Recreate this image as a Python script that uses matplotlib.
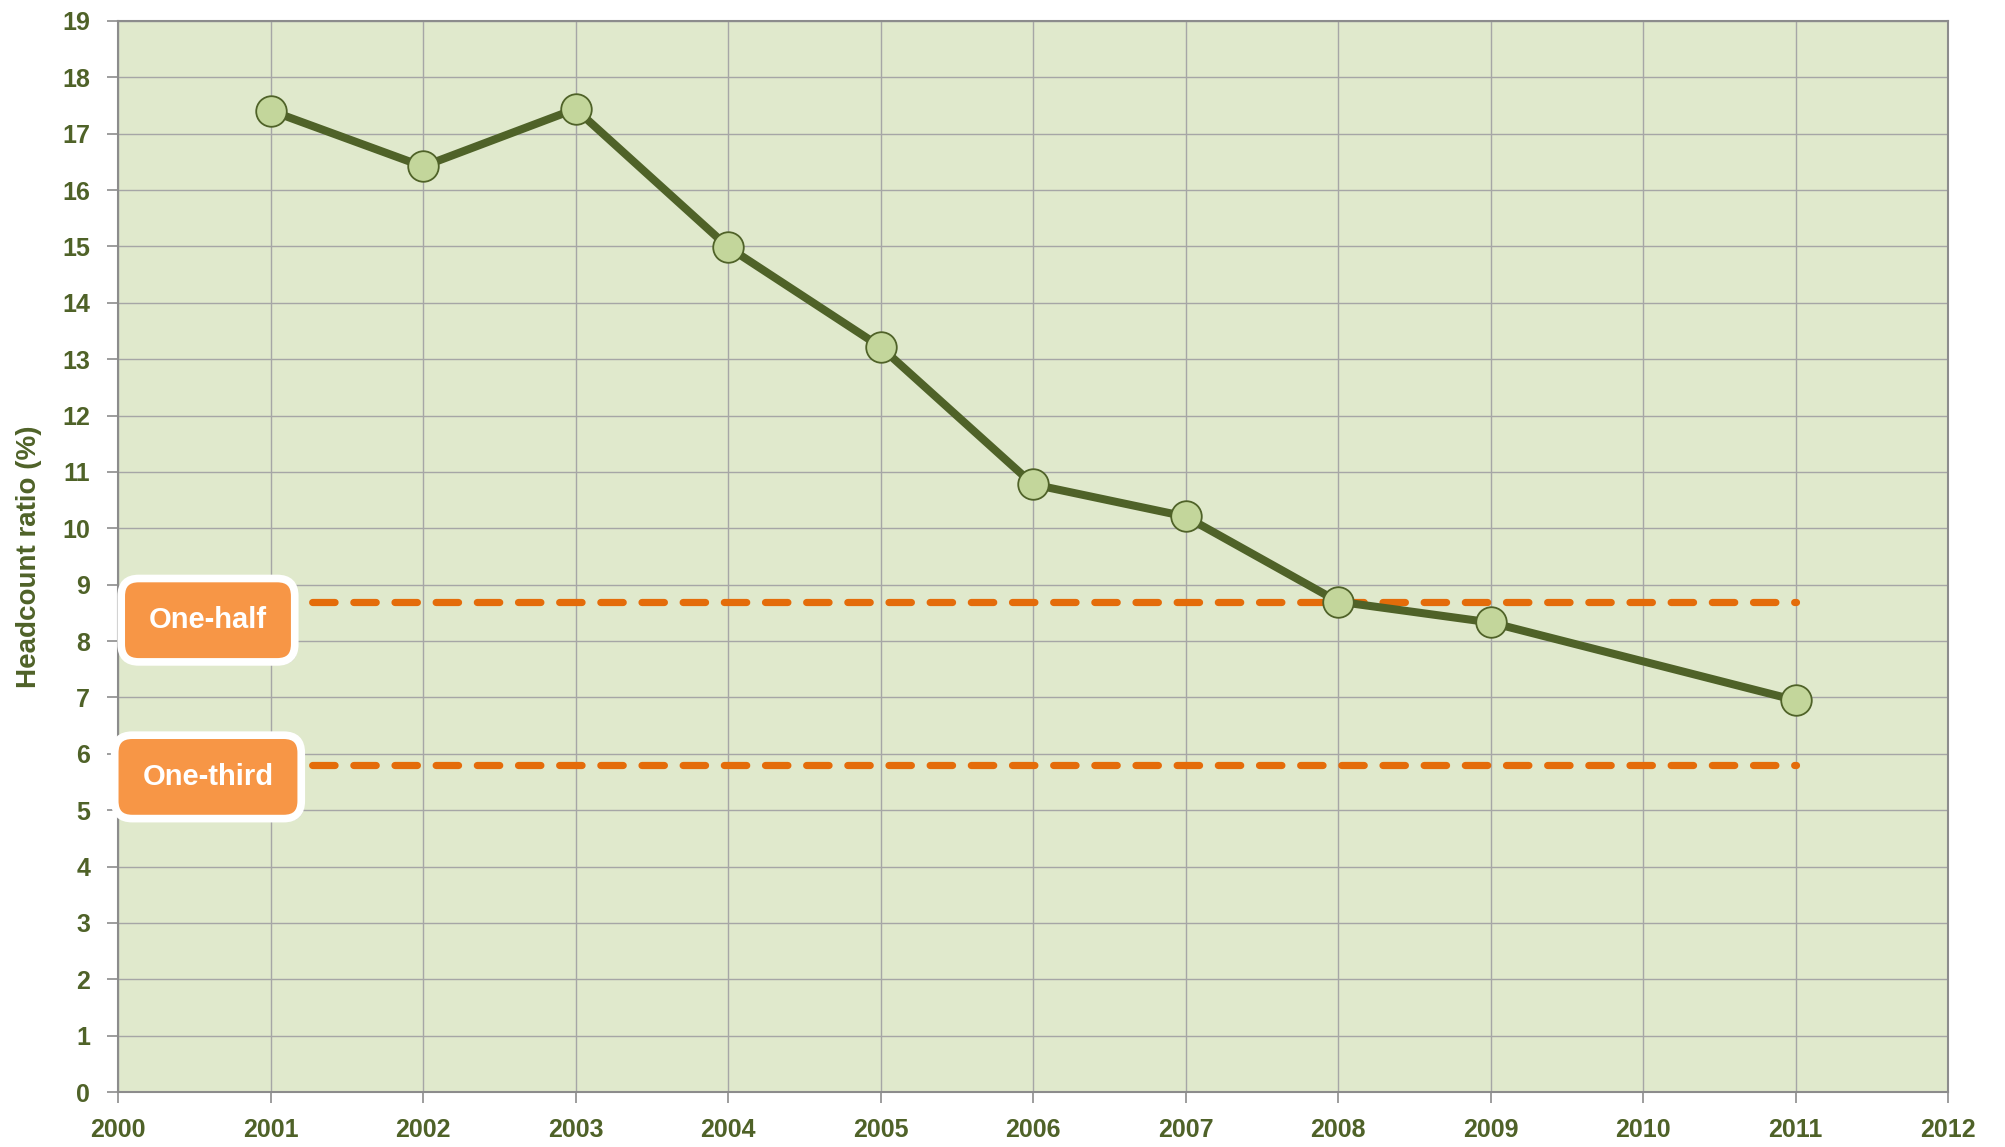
import matplotlib.pyplot as plt
import matplotlib.patheffects as pe

# headcount ratio by year
years = [2001, 2002, 2003, 2004, 2005, 2006, 2007, 2008, 2009, 2011]
ratio = [17.41, 16.42, 17.44, 14.99, 13.22, 10.78, 10.21, 8.70, 8.33, 6.95]

# target lines (half and third of the 2001 level)
target_years = [2001, 2011]
one_half = [8.70, 8.70]
one_third = [5.80, 5.80]

x_ticks = list(range(2000, 2013))
y_ticks = list(range(0, 20))

OLIVE = "#4F6228"
FONT = "Liberation Sans"


def main() -> None:
    fig = plt.figure(figsize=(20.05, 11.47), dpi=100)
    ax = fig.add_axes([118 / 2005, 1 - 1092 / 1147, (1948 - 118) / 2005, (1092 - 21) / 1147])
    ax.set_facecolor("#E0E9CC")

    ax.set_xlim(2000, 2012)
    ax.set_ylim(0, 19)
    ax.set_xticks(x_ticks)
    ax.set_yticks(y_ticks)
    ax.grid(True, color="#A6A6A6", linewidth=1.0, zorder=0)
    ax.set_axisbelow(True)
    for side in ax.spines.values():
        side.set_color("#8C8C8C")
        side.set_linewidth(1.5)

    ax.tick_params(axis="both", direction="out", length=8, width=1.2, color="#8C8C8C",
                   labelcolor=OLIVE)
    ax.tick_params(axis="y", pad=12)
    ax.tick_params(axis="x", pad=11)
    for lbl in ax.get_xticklabels() + ax.get_yticklabels():
        lbl.set_fontfamily(FONT)
        lbl.set_fontweight("bold")
        lbl.set_fontsize(18)

    dash_kw = dict(color="#E46C0A", linewidth=5.2, dashes=(3.1, 2.6),
                   dash_capstyle="round", zorder=2)
    ax.plot(target_years, one_half, **dash_kw)
    ax.plot(target_years, one_third, **dash_kw)

    ax.plot(years, ratio, color=OLIVE, linewidth=5.8, marker="o", markersize=22,
            markerfacecolor="#C3D69B", markeredgecolor=OLIVE, markeredgewidth=1.3,
            zorder=3)

    ax.set_ylabel("Headcount ratio (%)", fontsize=20, fontweight="bold", color=OLIVE,
                  family=FONT)
    ax.yaxis.set_label_coords(-(118 - 42) / 1830, 0.5, transform=ax.transAxes)

    box_kw = dict(boxstyle="round,pad=0.95,rounding_size=0.6", fc="#F79646",
                  ec="white", lw=5.5)
    for label, yy in [("One-half", 8.37), ("One-third", 5.59)]:
        t = ax.text(2000.59, yy, label, ha="center", va="center", color="white",
                    fontsize=21, fontweight="bold", family=FONT, bbox=box_kw,
                    zorder=5)
        t.get_bbox_patch().set_path_effects(
            [pe.SimplePatchShadow(offset=(2, -2), shadow_rgbFace="#9A9A9A", alpha=0.5),
             pe.Normal()])

    fig.savefig("out.png", dpi=100)
    plt.close(fig)


if __name__ == "__main__":
    main()
